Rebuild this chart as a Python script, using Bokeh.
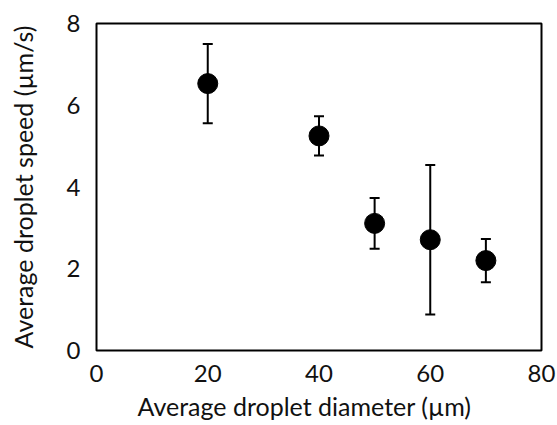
from bokeh.plotting import figure
from bokeh.models import Range1d, FixedTicker, Whisker, ColumnDataSource, TeeHead, Title
from bokeh.embed import file_html
from bokeh.resources import INLINE

diameter = [20, 40, 50, 60, 70]
speed = [6.53, 5.25, 3.11, 2.71, 2.20]
err = [0.97, 0.48, 0.62, 1.83, 0.53]
x_ticks = [0, 20, 40, 60, 80]
y_ticks = [0, 2, 4, 6, 8]
x_label = "Average droplet diameter (µm)"
y_label = "Average droplet speed (µm/s)"

src = ColumnDataSource(data=dict(
    x=diameter, y=speed,
    upper=[s + e for s, e in zip(speed, err)],
    lower=[s - e for s, e in zip(speed, err)],
))

FONT = "Lato"

p = figure(width=556, height=424, output_backend="svg", toolbar_location=None,
           x_range=Range1d(0, 80), y_range=Range1d(0, 8),
           min_border_left=96, min_border_right=15, min_border_top=23, min_border_bottom=73)

p.xgrid.visible = False
p.ygrid.visible = False
p.outline_line_color = "black"
p.outline_line_width = 2
p.outline_line_alpha = 1.0

for ax in (p.xaxis[0], p.yaxis[0]):
    ax.axis_line_color = None
    ax.major_tick_line_color = None
    ax.minor_tick_line_color = None
    ax.major_tick_out = 0
    ax.major_tick_in = 0
    ax.major_label_text_font = FONT
    ax.major_label_text_font_size = "24px"
    ax.major_label_text_color = "#111111"
    ax.axis_label_text_font = FONT
    ax.axis_label_text_font_size = "25px"
    ax.axis_label_text_font_style = "normal"
    ax.axis_label_text_color = "#111111"

p.xaxis.ticker = FixedTicker(ticks=x_ticks)
p.yaxis.ticker = FixedTicker(ticks=y_ticks)
p.yaxis.axis_label = y_label
p.xaxis.major_label_standoff = 14
p.yaxis.major_label_standoff = 16
p.yaxis.axis_label_standoff = 26

p.add_layout(Title(text=x_label, align="left", offset=41, standoff=8,
                   text_font=FONT, text_font_size="25px", text_font_style="normal",
                   text_color="#111111"), "below")

w = Whisker(base="x", upper="upper", lower="lower", source=src,
            line_color="black", line_width=2,
            upper_head=TeeHead(size=10, line_color="black", line_width=2),
            lower_head=TeeHead(size=10, line_color="black", line_width=2))
p.add_layout(w)
p.scatter("x", "y", source=src, size=20, fill_color="black", line_color="black")

open("out.html", "w").write(file_html(p, INLINE))
